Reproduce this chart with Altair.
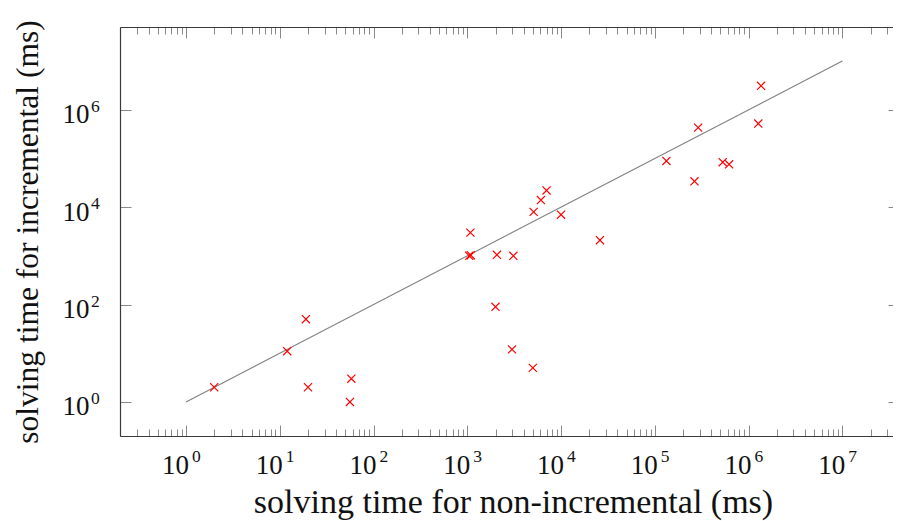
import altair as alt
import pandas as pd

# ---------------- data ----------------
x_noninc = [2, 12, 19, 20, 56, 58, 1050, 1090, 1080, 2070, 3100, 2000, 3000, 5000,
            5100, 6100, 7000, 10000, 26000, 133000, 265000, 290000, 530000, 620000,
            1270000, 1360000]
y_inc = [2, 11, 50, 2, 1, 3, 1000, 1030, 3000, 1050, 1000, 90, 12, 5,
         8000, 14000, 22000, 7000, 2100, 89000, 34000, 430000, 84000, 76000,
         520000, 3100000]

diag_x = [1, 1e7]
diag_y = [1, 1e7]

tick_base = "10"
x_tick_values = [1, 10, 100, 1e3, 1e4, 1e5, 1e6, 1e7]
x_tick_exponents = ["0", "1", "2", "3", "4", "5", "6", "7"]
y_tick_values = [1, 100, 1e4, 1e6]
y_tick_exponents = ["0", "2", "4", "6"]

x_title = "solving time for non-incremental (ms)"
y_title = "solving time for incremental (ms)"

# ---------------- layout ----------------
W, H = 773, 409
PX_PER_DEC = 93.76
XDOM = [10 ** -0.704, 10 ** (-0.704 + W / PX_PER_DEC)]
YDOM = [10 ** -0.70, 10 ** 7.70]
FONT = "Liberation Serif"
DOMAIN_C = "#3a3a3a"
TICK_C = "#8a8a8a"
TEXT_C = "#111111"

x_minor = [m * 10 ** k for k in range(-1, 8) for m in range(2, 10)
           if XDOM[0] <= m * 10 ** k <= XDOM[1]]

pts = pd.DataFrame({"x": x_noninc, "y": y_inc})
diag = pd.DataFrame({"x": diag_x, "y": diag_y})
xexp_df = pd.DataFrame({"v": x_tick_values, "e": x_tick_exponents})
yexp_df = pd.DataFrame({"v": y_tick_values, "e": y_tick_exponents})

xs = alt.Scale(type="log", domain=XDOM, nice=False)
ys = alt.Scale(type="log", domain=YDOM, nice=False)


def tick_axis(orient, values, size, domain=False):
    kw = dict(orient=orient, values=values, tickSize=size, ticks=True,
              labels=False, grid=False, domain=domain, tickColor=TICK_C,
              tickWidth=1, title=None)
    kw["offset"] = -H if orient in ("top", "bottom") else -W
    if domain:
        kw["domainColor"] = DOMAIN_C
        kw["domainWidth"] = 1.2
    return alt.Axis(**kw)


# main layer: points with labelled bottom / left axes
points = alt.Chart(pts).mark_point(
    shape="M-1,-1L1,1M1,-1L-1,1", size=66, color="#ff0000",
    filled=False, strokeWidth=1.2, opacity=1
).encode(
    x=alt.X("x:Q", scale=xs, axis=alt.Axis(
        orient="bottom", values=x_tick_values, labelExpr=f"'{tick_base}'",
        ticks=False, tickSize=0, grid=False, domain=True,
        domainColor=DOMAIN_C, domainWidth=1.2,
        labelFont=FONT, labelFontSize=27, labelColor=TEXT_C,
        labelPadding=37, labelAlign="right", labelBaseline="alphabetic",
        labelOffset=2.5,
        title=x_title, titleFont=FONT, titleFontSize=34,
        titleFontWeight="normal", titleColor=TEXT_C,
        titleX=393, titleY=76, titleBaseline="alphabetic", titleAlign="center")),
    y=alt.Y("y:Q", scale=ys, axis=alt.Axis(
        orient="left", values=y_tick_values, labelExpr=f"'{tick_base}'",
        ticks=False, tickSize=0, grid=False, domain=True,
        domainColor=DOMAIN_C, domainWidth=1.2,
        labelFont=FONT, labelFontSize=27, labelColor=TEXT_C,
        labelPadding=31, labelAlign="right", labelBaseline="alphabetic",
        labelOffset=13,
        title=y_title, titleFont=FONT, titleFontSize=31.5,
        titleFontWeight="normal", titleColor=TEXT_C,
        titleX=-83, titleY=H / 2, titleAngle=270,
        titleBaseline="alphabetic", titleAlign="center")),
)

# exponents of the tick labels (superscripts)
x_exp = alt.Chart(xexp_df).mark_text(
    align="left", baseline="alphabetic", dx=6, font=FONT, fontSize=17.5, color=TEXT_C
).encode(
    x=alt.X("v:Q", scale=xs, axis=None),
    y=alt.value(H + 25.7),
    text="e:N",
)
y_exp = alt.Chart(yexp_df).mark_text(
    align="left", baseline="alphabetic", dy=2, font=FONT, fontSize=17.5, color=TEXT_C
).encode(
    x=alt.value(-29),
    y=alt.Y("v:Q", scale=ys, axis=None),
    text="e:N",
)

# diagonal y = x ; carries top frame line + top major ticks, left inward ticks
line = alt.Chart(diag).mark_line(color="#808080", strokeWidth=1.1).encode(
    x=alt.X("x:Q", scale=xs, axis=tick_axis("bottom", x_tick_values, 11, domain=True)),
    y=alt.Y("y:Q", scale=ys, axis=tick_axis("right", y_tick_values, 11)),
)

# invisible helper layers carrying the remaining inward ticks
top_minor = alt.Chart(diag).mark_point(opacity=0).encode(
    x=alt.X("x:Q", scale=xs, axis=tick_axis("bottom", x_minor, 7)),
    y=alt.Y("y:Q", scale=ys, axis=tick_axis("left", y_tick_values, 5)),
)
bottom_major = alt.Chart(diag).mark_point(opacity=0).encode(
    x=alt.X("x:Q", scale=xs, axis=tick_axis("top", x_tick_values, 11)),
    y=alt.Y("y:Q", scale=ys, axis=None),
)
bottom_minor = alt.Chart(diag).mark_point(opacity=0).encode(
    x=alt.X("x:Q", scale=xs, axis=tick_axis("top", x_minor, 7)),
    y=alt.Y("y:Q", scale=ys, axis=None),
)

chart = alt.layer(
    bottom_major, bottom_minor, top_minor, line, points, x_exp, y_exp
).resolve_scale(
    x="shared", y="shared"
).resolve_axis(
    x="independent", y="independent"
).properties(
    width=W, height=H,
    autosize=alt.AutoSizeParams(type="none"),
    padding={"left": 112, "top": 19, "right": 0, "bottom": 85},
).configure_view(
    stroke=None
).configure_axis(
    grid=False
)

chart.save("out.html", embed_options={"renderer": "svg", "actions": False})
